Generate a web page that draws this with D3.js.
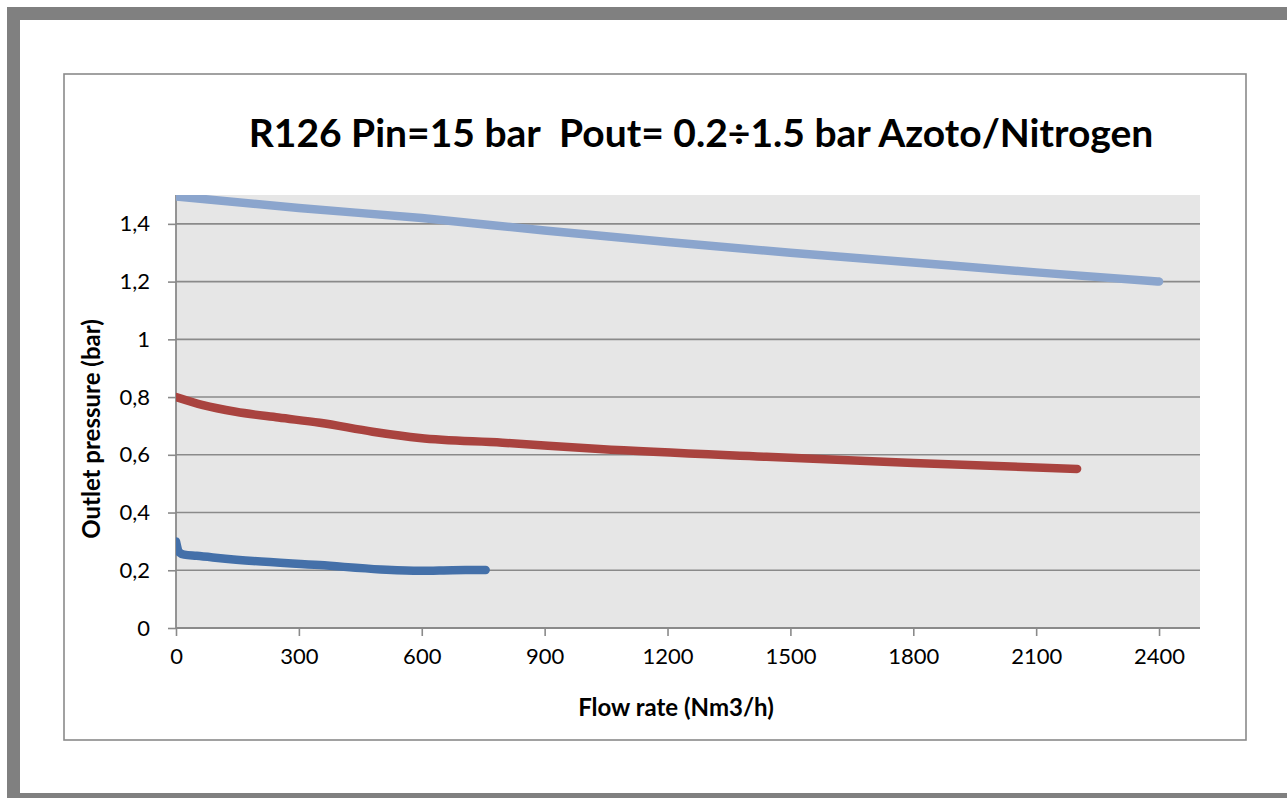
<!DOCTYPE html>
<html>
<head>
<meta charset="utf-8">
<script src="https://cdn.jsdelivr.net/npm/d3@7"></script>
<style>
  body { margin: 0; background: #fff; }
  svg { display: block; font-family: Lato, "Open Sans", sans-serif; }
</style>
</head>
<body>
<svg id="chart" width="1287" height="798"></svg>
<script>
// values
const flowHigh = [0, 300, 600, 900, 1200, 1500, 1800, 2100, 2400];
const presHigh = [1.495, 1.455, 1.42, 1.377, 1.337, 1.3, 1.266, 1.232, 1.2];

const flowMid = [0, 66, 146, 250, 351, 480, 595, 797, 1034, 1441, 1800, 2200];
const presMid = [0.8, 0.772, 0.749, 0.729, 0.711, 0.68, 0.658, 0.642, 0.62, 0.593, 0.572, 0.551];

const flowLow = [0, 8, 20, 50, 188, 351, 500, 595, 675, 756];
const presLow = [0.3, 0.262, 0.254, 0.25, 0.232, 0.218, 0.203, 0.198, 0.2, 0.201];

const xTicks = [0, 300, 600, 900, 1200, 1500, 1800, 2100, 2400];
const yTicks = [0, 0.2, 0.4, 0.6, 0.8, 1, 1.2, 1.4];

const title = 'R126 Pin=15 bar  Pout= 0.2\u00f71.5 bar Azoto/Nitrogen';

const series = [
  { xs: flowHigh, ys: presHigh, color: '#8ba5cd' },
  { xs: flowMid, ys: presMid, color: '#a9433f' },
  { xs: flowLow, ys: presLow, color: '#4470a9' }
];

const svg = d3.select('#chart');
const plot = { left: 176, top: 195, right: 1200, bottom: 628 };

const x = d3.scaleLinear().domain([0, 2500]).range([plot.left, plot.right]);
const y = d3.scaleLinear().domain([0, 1.5]).range([plot.bottom, plot.top]);

// outer page frame and chart box
svg.append('rect')
    .attr('x', 13.5).attr('y', 13.5)
    .attr('width', 1400).attr('height', 786)
    .attr('fill', 'none')
    .attr('stroke', '#808080')
    .attr('stroke-width', 13);
svg.append('rect')
    .attr('x', 64).attr('y', 74)
    .attr('width', 1182).attr('height', 666)
    .attr('fill', '#fff')
    .attr('stroke', '#8a8a8a')
    .attr('stroke-width', 1.6);

svg.append('rect')
    .attr('x', plot.left).attr('y', plot.top)
    .attr('width', plot.right - plot.left)
    .attr('height', plot.bottom - plot.top)
    .attr('fill', '#e6e6e6');

// gridlines
svg.append('g')
    .selectAll('line')
    .data(yTicks.filter(d => d > 0))
    .join('line')
    .attr('x1', plot.left).attr('x2', plot.right)
    .attr('y1', d => y(d)).attr('y2', d => y(d))
    .attr('stroke', '#8a8a8a')
    .attr('stroke-width', 1.6);

const yAxis = svg.append('g')
    .attr('transform', `translate(${plot.left},0)`)
    .call(d3.axisLeft(y).tickValues(yTicks).tickSize(8).tickPadding(18)
        .tickFormat(d => String(d).replace('.', ',')));

const xAxis = svg.append('g')
    .attr('transform', `translate(0,${plot.bottom})`)
    .call(d3.axisBottom(x).tickValues(xTicks).tickSize(8).tickPadding(12)
        .tickFormat(d3.format('d')));

[yAxis, xAxis].forEach(ax => {
    ax.select('.domain').attr('stroke', '#8a8a8a').attr('stroke-width', 1.8);
    ax.selectAll('.tick line').attr('stroke', '#8a8a8a').attr('stroke-width', 1.6);
    ax.selectAll('.tick text')
        .attr('fill', '#000')
        .style('font-family', 'Lato, sans-serif')
        .style('font-size', '22px');
});
// trim the x domain so it ends at the plot edge
xAxis.select('.domain').attr('d', `M${plot.left},0H${plot.right}`);
yAxis.select('.domain').attr('d', `M0,${plot.bottom}V${plot.top}`);

// curves
svg.append('clipPath').attr('id', 'plotClip')
  .append('rect')
    .attr('x', plot.left).attr('y', plot.top)
    .attr('width', plot.right - plot.left)
    .attr('height', plot.bottom - plot.top);

const line = d3.line()
    .x(d => x(d[0]))
    .y(d => y(d[1]))
    .curve(d3.curveMonotoneX);

svg.append('g')
    .attr('clip-path', 'url(#plotClip)')
    .selectAll('path')
    .data(series)
    .join('path')
    .attr('d', s => line(d3.zip(s.xs, s.ys)))
    .attr('fill', 'none')
    .attr('stroke', s => s.color)
    .attr('stroke-width', 8.5)
    .attr('stroke-linecap', 'round')
    .attr('stroke-linejoin', 'round');

// titles
svg.append('text')
    .attr('x', 701).attr('y', 147)
    .attr('text-anchor', 'middle')
    .style('white-space', 'pre')
    .style('font-size', '39px')
    .style('font-weight', 'bold')
    .text(title);

svg.append('text')
    .attr('x', 676).attr('y', 716)
    .attr('text-anchor', 'middle')
    .style('font-size', '24px')
    .style('font-weight', 'bold')
    .text('Flow rate (Nm3/h)');

svg.append('text')
    .attr('transform', 'translate(100,429) rotate(-90)')
    .attr('text-anchor', 'middle')
    .style('font-size', '24px')
    .style('font-weight', 'bold')
    .text('Outlet pressure (bar)');
</script>
</body>
</html>
